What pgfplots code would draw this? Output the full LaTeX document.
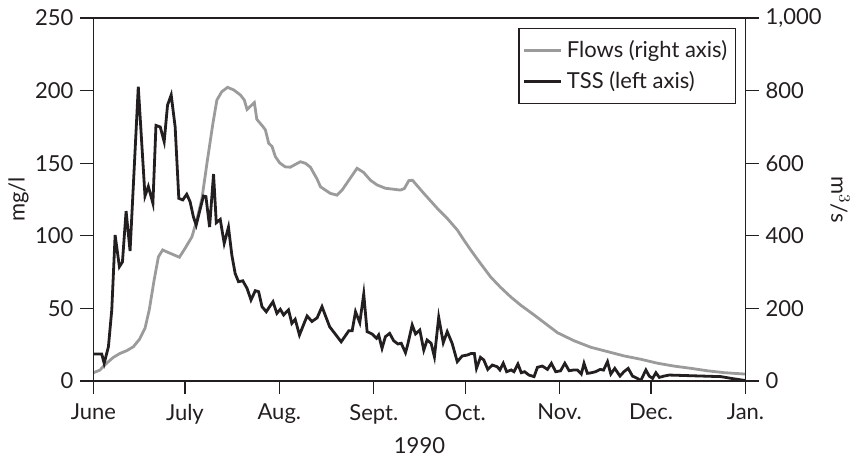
\documentclass[border=0pt]{standalone}
\usepackage{pgfplots}
\pgfplotsset{compat=1.18}
\usepackage{fontspec}
\setmainfont{Lato}
\usetikzlibrary{calc}

\definecolor{inkc}{HTML}{231F20}
\definecolor{flowc}{HTML}{9B9B9B}

\pgfplotsset{
  base/.style={
    scale only axis,
    width=326pt, height=181.5pt,
    xmin=0, xmax=214,
    font=\fontsize{11}{13}\selectfont,
    axis line style={inkc, line width=0.6pt},
    tick style={inkc, line width=0.6pt},
    major tick length=6.5pt,
    tick align=outside,
    ticklabel style={inkc},
    /pgf/number format/assume math mode=true,
    /pgf/number format/1000 sep={,},
  },
}

\begin{document}
\begin{tikzpicture}
% flows, right axis (drawn first so TSS lies on top)
\begin{axis}[
  base,
  axis x line=none,
  axis y line*=right,
  ymin=0, ymax=1000,
  ytick={0,200,400,600,800,1000},
  ylabel={m$^3$/s},
  every axis y label/.style={at={(axis description cs:1.145,0.5)}, rotate=-90, anchor=center, inkc},
]
\addplot[flowc, line width=1.4pt] coordinates {
  (0,23) (2.1,30) (4.3,49) (6.5,65) (8.7,76) (10.9,83.5) (13.1,94.5)
  (15.1,115) (16.9,145) (18.3,196) (19.9,278) (21.3,342) (22.7,361)
  (25.1,352) (28.2,341) (30.1,366) (32.3,397) (33.9,443) (35.6,503)
  (37.4,609) (39.2,710) (40.5,774) (42.1,797) (44,809) (46,802)
  (48.2,788) (49.5,774) (50.4,748) (51.4,756) (52.8,767) (53.6,721)
  (54.7,710) (55.6,701) (56.4,692) (57.5,655) (58.6,646) (59.7,618)
  (61.1,601) (62.9,590) (64.6,589) (65.9,595) (67.9,604) (69.5,600)
  (71.2,589) (73.4,556) (74.5,535) (77.7,517) (79.9,512) (81.6,526)
  (83.8,553) (86.5,586) (88.6,575) (90.9,553) (93.1,540) (95.8,531)
  (100.7,526) (102,530) (103.5,552) (104.7,553) (108.4,517) (112.8,476)
  (116.1,448) (119.4,416) (121.6,388) (123.8,361) (127,324) (130.3,287)
  (133.6,258) (136.9,232) (140.2,209) (144.6,182) (149,154) (152.3,133)
  (157.7,111) (163.2,93) (168.7,81) (174.2,69) (179.6,60) (185.1,49)
  (190.6,41) (196,35) (201.6,28) (207,23) (214,19)
};
\end{axis}

% TSS, left axis, with frame and legend
\begin{axis}[
  base,
  name=ax,
  ymin=0, ymax=250,
  ytick={0,50,100,150,200,250},
  ytick pos=left,
  xtick pos=bottom,
  xtick={0,30,61,92,122,153,183,214},
  xticklabels={June,July,Aug.,Sept.,Oct.,Nov.,Dec.,Jan.},
  xticklabel style={yshift=-1.5pt},
  xlabel={1990},
  ylabel={mg/l},
  every axis x label/.style={at={(axis description cs:0.5,-0.179)}, anchor=center, inkc},
  every axis y label/.style={at={(axis description cs:-0.115,0.5)}, rotate=90, anchor=center, inkc},
  legend cell align=left,
  legend style={
    at={(axis description cs:0.985,0.972)}, anchor=north east,
    draw=inkc, line width=0.6pt,
    font=\fontsize{11}{13}\selectfont,
    text=inkc,
    inner xsep=2pt, inner ysep=4pt,
    row sep=1.5pt,
  },
  legend image code/.code={\draw[#1] (0cm,0cm) -- (0.65cm,0cm);},
]
\addlegendimage{flowc, line width=1.4pt}
\addlegendentry{Flows (right axis)}
\addplot[inkc, line width=1.4pt] coordinates {
  (0,18.6) (2.7,18.6) (3.5,12.2) (4.9,23.6) (6.0,49) (7.1,100.5) (8.5,78.7)
  (9.5,82) (10.7,117) (12.0,89.5) (14.7,202.7) (16.9,127.4) (18.0,134)
  (19.5,122.4) (20.5,176) (21.9,175) (23.2,164.8) (24.3,190) (25.5,197)
  (26.8,175) (28.0,125.8) (29.3,124.7) (30.6,128.6) (31.7,123.5) (32.8,113)
  (33.7,107.4) (34.8,116.6) (36.1,127.4) (36.9,127) (38.1,106) (39.4,142.5)
  (40.3,109) (41.6,111.3) (42.9,94.8) (44.3,106) (45.4,86.8) (46.5,74)
  (47.6,68.4) (49.0,69) (50.4,63.8) (51.7,55.8) (53.1,62.2) (54.2,61.5)
  (55.3,51.2) (56.7,47.7) (58.9,54.6) (60.2,46.6) (61.3,49.4) (62.4,45.5)
  (64.0,49) (65.1,39.7) (66.2,42.5) (67.6,31.7) (70.1,44.8) (71.7,41)
  (73.4,43.5) (75.0,51.2) (77.5,37.4) (81.3,27) (83.8,34.6) (84.9,34.6)
  (86.0,47.7) (87.4,40.2) (88.7,59.9) (89.8,34) (91.4,32.4) (92.9,29.4)
  (93.6,31.7) (94.7,22.5) (95.8,30.5) (97.2,32.8) (98.5,27.8) (99.9,25.5)
  (101.0,26) (102.4,19.5) (103.1,24.8) (104.6,38.6) (105.7,32.4) (107.1,35.1)
  (108.4,21.3) (109.5,28.2) (110.8,26) (111.9,16.7) (113.3,43.9) (114.8,26.4)
  (116.1,34) (117.7,26) (119.4,13.3) (121.0,17.2) (122.7,17.9) (124.0,19)
  (125.0,19) (125.7,8.7) (127.0,16.3) (128.1,14.5) (129.4,8) (130.9,11)
  (132.5,9.8) (133.4,7.6) (134.5,12.2) (135.6,6.4) (137.1,7.6) (138.0,6.4)
  (139.3,11.7) (140.4,5.7) (141.5,6.4) (142.9,4.1) (144.6,3) (145.7,9.4)
  (147.3,10.3) (149.0,8) (150.3,12.2) (151.7,6.4) (153.3,7) (154.7,12.2)
  (156.1,7.1) (157.7,7.6) (158.8,7.6) (160.1,4.8) (161.0,12.2) (162.1,5.3)
  (163.0,5.5) (164.8,6.4) (166.3,8) (167.4,7.5) (168.7,13.3) (169.8,4.8)
  (171.1,8.7) (172.8,3.4) (174.1,6.4) (175.5,8.7) (176.9,3.4) (178.5,1.8)
  (179.6,0.2) (181.3,7.6) (182.4,3.4) (183.5,1.8) (184.6,5.7) (185.7,2.5)
  (187.3,3.4) (189.0,4.1) (206.0,3) (209.3,1.8) (214.0,0.3)
};
\addlegendentry{TSS (left axis)}
\end{axis}

\pgfresetboundingbox
\path ($(ax.south west)+(-46.75pt,-40pt)$) rectangle ($(ax.north east)+(55.25pt,9pt)$);
\end{tikzpicture}
\end{document}
